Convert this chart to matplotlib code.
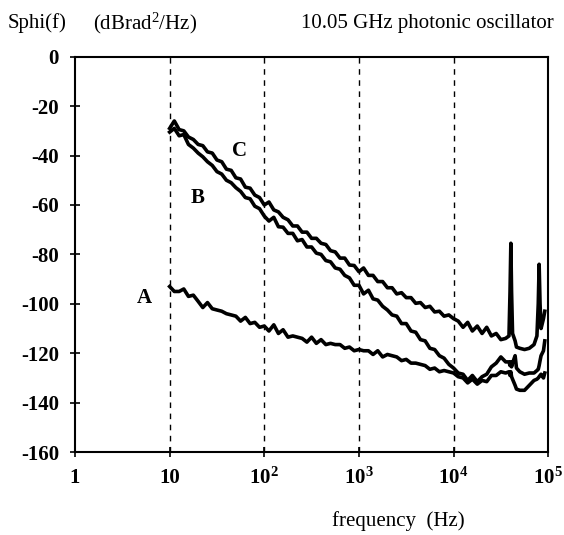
import matplotlib
matplotlib.use("Agg")
import matplotlib.pyplot as plt

plt.rcParams["font.family"] = ["Liberation Serif", "DejaVu Serif"]
plt.rcParams["mathtext.fontset"] = "custom"
plt.rcParams["mathtext.rm"] = "Liberation Serif"
plt.rcParams["mathtext.it"] = "Liberation Serif:italic"
plt.rcParams["mathtext.bf"] = "Liberation Serif:bold"

# frequency grid (Hz) shared by the three curves
freq = [10, 11.2, 12.6, 14.1, 15.8, 17.8, 20, 22.4, 25.1, 28.2, 31.6, 35.5, 39.8, 44.7, 50.1, 56.2, 63.1, 70.8, 79.4, 89.1,
        100, 112, 126, 141, 158, 178, 200, 224, 251, 282, 316, 355, 398, 447, 501, 562, 631, 708, 794, 891,
        1000, 1120, 1260, 1410, 1580, 1780, 2000, 2240, 2510, 2820, 3160, 3550, 3980, 4470, 5010, 5620, 6310, 7080, 7940, 8910,
        10000, 11200, 12600, 14100, 15800, 17800, 20000, 22400, 25100, 28200, 31600, 35500, 38500, 39500, 40300, 41000, 42000,
        44700, 46200, 50100, 56200, 63100, 70800, 76000, 78500, 80200, 82000, 84000, 89100, 92000]

curve_a = [-93.0, -95.0, -95.0, -94.0, -97.0, -96.5, -99.0, -101.5, -99.5, -102.0, -102.5, -103.0, -104.0, -104.5, -105.0, -107.0, -105.5, -108.0, -107.5, -109.5,
           -109.0, -111.0, -108.5, -112.0, -110.5, -113.5, -113.0, -113.5, -114.0, -115.5, -113.5, -116.0, -114.5, -116.5, -116.0, -116.5, -116.5, -118.0, -117.5, -119.0,
           -118.5, -119.0, -119.0, -120.5, -119.0, -121.5, -120.5, -121.0, -121.5, -123.0, -122.5, -124.0, -124.0, -124.5, -125.0, -126.5, -126.0, -127.5, -127.0, -127.5,
           -128.0, -129.5, -130.0, -132.0, -130.5, -132.5, -131.0, -131.5, -129.0, -129.0, -127.5, -128.0, -127.5, -129.0, -127.5, -129.5, -130.5,
           -133.0, -134.5, -135.0, -135.0, -133.0, -131.0, -130.5, -130.0, -129.5, -129.0, -128.5, -130.0, -128.0]

curve_b = [-30.5, -29.0, -32.0, -31.5, -35.5, -37.0, -39.0, -40.5, -42.5, -44.0, -46.5, -47.5, -50.0, -51.0, -53.0, -54.5, -57.0, -57.5, -60.5, -61.5,
           -64.5, -66.5, -65.0, -68.8, -69.0, -71.5, -71.5, -74.5, -74.0, -77.0, -77.0, -79.5, -80.0, -82.5, -83.0, -85.5, -86.0, -88.5, -89.5, -92.5,
           -92.5, -96.0, -94.5, -98.0, -98.5, -101.0, -102.5, -104.5, -105.0, -108.0, -108.0, -111.0, -111.5, -114.5, -115.0, -118.0, -118.5, -121.0, -122.0, -124.5,
           -126.0, -128.0, -128.5, -131.0, -129.0, -131.5, -129.5, -128.5, -125.5, -124.0, -121.5, -123.5, -123.5, -125.0, -123.5, -125.5, -124.0,
           -121.0, -126.0, -127.5, -128.5, -128.0, -128.0, -127.0, -126.5, -125.0, -123.0, -121.0, -119.0, -115.0]

curve_c = [-29.0, -26.0, -29.5, -30.0, -32.5, -33.5, -35.5, -36.0, -38.5, -39.0, -41.8, -42.5, -45.5, -46.0, -49.0, -49.5, -52.8, -53.2, -56.0, -57.0,
           -60.0, -58.8, -62.0, -62.8, -65.0, -66.0, -68.5, -68.5, -71.0, -71.0, -73.5, -73.5, -75.5, -76.0, -78.5, -79.0, -81.5, -81.5, -84.3, -84.5,
           -87.0, -85.5, -88.5, -88.5, -91.0, -91.0, -93.5, -93.5, -96.0, -95.5, -97.5, -97.5, -99.8, -99.5, -101.5, -101.0, -103.3, -103.0, -105.0, -104.5,
           -106.0, -107.0, -109.5, -107.5, -111.0, -109.0, -112.0, -109.5, -113.0, -112.0, -114.5, -114.0, -113.0, -95.0, -75.5, -95.0, -112.0,
           -115.0, -117.5, -118.0, -118.5, -118.0, -116.5, -113.0, -100.0, -84.0, -100.0, -110.0, -106.0, -103.0]

labels = ["A", "B", "C"]
label_x = [5.4, 19.8, 55]
label_y = [-97.5, -57, -38]

grid_freqs = [10, 100, 1000, 10000]
x_ticks = [1, 10, 100, 1000, 10000, 100000]
x_ticklabels = ["1", "10", r"$\mathbf{10^2}$", r"$\mathbf{10^3}$", r"$\mathbf{10^4}$", r"$\mathbf{10^5}$"]
y_ticks = [0, -20, -40, -60, -80, -100, -120, -140, -160]

fig = plt.figure(figsize=(5.64, 5.35), dpi=100)
ax = fig.add_axes([0.133, 0.155, 0.839, 0.739])

for g in grid_freqs:
    ax.axvline(g, color="black", lw=1.0, ls=(0, (4, 4)))

for series in [curve_a, curve_b, curve_c]:
    ax.plot(freq, series, color="black", lw=2.6)

for lab, lx, ly in zip(labels, label_x, label_y):
    ax.text(lx, ly, lab, fontsize=15, fontweight="bold", ha="center", va="center")

ax.set_xscale("log")
ax.set_xlim(1, 100000)
ax.set_ylim(-160, 0)
ax.set_xticks(x_ticks)
ax.set_xticklabels(x_ticklabels)
ax.minorticks_off()
ax.set_yticks(y_ticks)
ax.set_yticklabels([str(v) if v == 0 else "-%d" % abs(v) for v in y_ticks])
ax.tick_params(direction="inout", length=7, width=1.2, labelsize=15, pad=8)
for lab in ax.get_xticklabels() + ax.get_yticklabels():
    lab.set_fontweight("bold")
for sp in ax.spines.values():
    sp.set_linewidth(1.5)

fig.text(0.014, 0.957, "Sphi(f)", fontsize=15, ha="left", va="center")
fig.text(0.165, 0.957, "(dBrad$^2$/Hz)", fontsize=15, ha="left", va="center")
fig.text(0.982, 0.957, "10.05 GHz photonic oscillator", fontsize=15, ha="right", va="center")
fig.text(0.706, 0.027, "frequency  (Hz)", fontsize=15, ha="center", va="center")

fig.savefig("out.png", dpi=100)
